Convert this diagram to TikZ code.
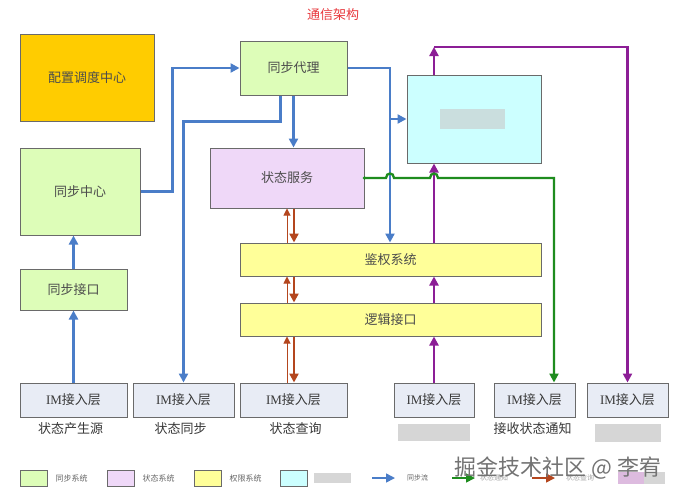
\documentclass[tikz,border=0pt]{standalone}
\usepackage{fontspec}
\setmainfont{Liberation Serif}
\newfontfamily\cjk{Noto Sans CJK SC}
\usetikzlibrary{arrows.meta,positioning}

\definecolor{syncgreen}{HTML}{DDFDB8}
\definecolor{statepurple}{HTML}{EFD8F8}
\definecolor{authyellow}{HTML}{FFFF99}
\definecolor{cachecyan}{HTML}{CCFFFF}
\definecolor{dispatchorange}{HTML}{FFCC00}
\definecolor{accessgray}{HTML}{E8ECF5}
\definecolor{boxline}{HTML}{6A6A6A}
\definecolor{flowblue}{HTML}{4A7DC8}
\definecolor{flowgreen}{HTML}{1E8C1E}
\definecolor{flowpurple}{HTML}{8C1E96}
\definecolor{flowbrown}{HTML}{B4461E}
\definecolor{titlered}{HTML}{E8383D}
\definecolor{smudge}{HTML}{D6D6D6}

\begin{document}
\begin{tikzpicture}
  [x=1pt,y=-1pt,
   box/.style={draw=boxline,line width=1pt,inner sep=0pt,text=black!70,
     font=\cjk\fontsize{13}{15}\selectfont},
   syncbox/.style={box,fill=syncgreen},
   statebox/.style={box,fill=statepurple},
   authbox/.style={box,fill=authyellow,minimum width=301,minimum height=33},
   accessbox/.style={box,fill=accessgray,minimum height=34,text=black!78},
   sidelabel/.style={font=\cjk\fontsize{13}{15}\selectfont,text=black!78,inner sep=1pt},
   keybox/.style={draw=boxline,line width=0.8pt,minimum width=27,minimum height=16,inner sep=0pt},
   keytext/.style={font=\cjk\fontsize{8}{9}\selectfont,text=black!60,inner sep=0pt},
   flowline/.style={line width=2.3pt,-{Triangle[length=9pt,width=9pt]}},
   blueflow/.style={flowline,draw=flowblue},
   greenflow/.style={flowline,draw=flowgreen},
   purpleflow/.style={flowline,draw=flowpurple},
   askup/.style={line width=1pt,draw=flowbrown,-{Triangle[length=7pt,width=7pt]}},
   askdown/.style={flowline,line width=2.4pt,draw=flowbrown}]

  \fill[white] (0,0) rectangle (692,501);
  \useasboundingbox (0,0) rectangle (692,501);

  \node[font=\cjk\fontsize{13}{15}\selectfont,text=titlered] (title) at (333,15) {通信架构};

  % upper systems
  \node[box,fill=dispatchorange,minimum width=134,minimum height=87] (dispatch) at (87,77.5) {配置调度中心};
  \node[syncbox,minimum width=120,minimum height=87] (synccenter) at (80,191.5) {同步中心};
  \node[syncbox,minimum width=107,minimum height=41] (syncapi) at (73.5,289.5) {同步接口};
  \node[syncbox,minimum width=107,minimum height=54] (syncproxy) at (293.5,68) {同步代理};
  \node[statebox,minimum width=154,minimum height=60] (statesvc) at (287,178) {状态服务};
  \node[box,fill=cachecyan,minimum width=134,minimum height=88] (cache) at (474,119) {};
  \fill[cachecyan!60!gray!65] (440,109) rectangle (505,129);
  \node[authbox] (auth) at (390.5,259.5) {鉴权系统};
  \node[authbox] (logic) at (390.5,319.5) {逻辑接口};

  % access layer
  \node[accessbox,minimum width=107] (im1) at (73.5,400) {{\rmfamily IM}接入层};
  \node[accessbox,minimum width=101] (im2) at (183.5,400) {{\rmfamily IM}接入层};
  \node[accessbox,minimum width=107] (im3) at (293.5,400) {{\rmfamily IM}接入层};
  \node[accessbox,minimum width=80] (im4) at (434,400) {{\rmfamily IM}接入层};
  \node[accessbox,minimum width=81] (im5) at (534.5,400) {{\rmfamily IM}接入层};
  \node[accessbox,minimum width=81] (im6) at (627.5,400) {{\rmfamily IM}接入层};

  \node[sidelabel,below=4pt of im1,xshift=-3pt] (lab1) {状态产生源};
  \node[sidelabel,below=4pt of im2,xshift=-3pt] (lab2) {状态同步};
  \node[sidelabel,below=4pt of im3,xshift=2pt] (lab3) {状态查询};
  \node[fill=smudge,inner sep=0pt,minimum width=72,minimum height=17,below=6pt of im4] (lab4) {};
  \node[sidelabel,below=4pt of im5,xshift=-2pt] (lab5) {接收状态通知};
  \node[fill=smudge,inner sep=0pt,minimum width=66,minimum height=18,below=6pt of im6] (lab6) {};

  % sync flow
  \coordinate (authdrop) at (390,68);
  \draw[blueflow] (im1.north) -- (syncapi.south);
  \draw[blueflow] (syncapi.north) -- (syncapi.north |- synccenter.south);
  \draw[blueflow] (synccenter.east) -- ++(32,0) |- (syncproxy.west);
  \draw[blueflow] ([xshift=-13pt]syncproxy.south) -- ++(0,26) -| (im2.north);
  \draw[blueflow] (syncproxy.south) -- (syncproxy.south |- statesvc.north);
  \draw[blueflow] (syncproxy.east) -| (authdrop |- auth.north);
  \draw[blueflow] (authdrop |- cache.west) -- (cache.west);

  % state query
  \coordinate (queryup) at (287,0);
  \coordinate (querydown) at (294,0);
  \draw[askup] (queryup |- auth.north) -- (queryup |- statesvc.south);
  \draw[askdown] (querydown |- statesvc.south) -- (querydown |- auth.north);
  \draw[askup] (queryup |- logic.north) -- (queryup |- auth.south);
  \draw[askdown] (querydown |- auth.south) -- (querydown |- logic.north);
  \draw[askup] (queryup |- im3.north) -- (queryup |- logic.south);
  \draw[askdown] (querydown |- logic.south) -- (querydown |- im3.north);

  % relay flow
  \coordinate (relay) at (434,47);
  \draw[purpleflow] (im4.north) -- (im4.north |- logic.south);
  \draw[purpleflow] (relay |- logic.north) -- (relay |- auth.south);
  \draw[purpleflow] (relay |- auth.north) -- (relay |- cache.south);
  \draw[purpleflow] (relay |- cache.north) -- (relay);
  \draw[purpleflow] (relay) -| (im6.north);

  % state notify
  \coordinate (notify) at (554,0);
  \fill[flowgreen] (statesvc.east) circle (1.9pt);
  \draw[greenflow] (statesvc.east) -- (386,178) .. controls (386,172) and (394,172) .. (394,178)
    -- (430,178) .. controls (430,172) and (438,172) .. (438,178) -| (notify |- im5.north);

  % key
  \node[keybox,fill=syncgreen] (keysync) at (33.5,478) {};
  \node[keytext,right=8pt of keysync] (keysynctext) {同步系统};
  \node[keybox,fill=statepurple] (keystate) at (120.5,478) {};
  \node[keytext,right=8pt of keystate] (keystatetext) {状态系统};
  \node[keybox,fill=authyellow] (keyauth) at (207.5,478) {};
  \node[keytext,right=8pt of keyauth] (keyauthtext) {权限系统};
  \node[keybox,fill=cachecyan] (keycache) at (293.5,478) {};
  \node[fill=smudge,inner sep=0pt,minimum width=37,minimum height=10,right=6pt of keycache] (keycachetext) {};
  \coordinate (keyblue) at (372,478);
  \coordinate (keyblueend) at (395,478);
  \draw[blueflow,line width=1.6pt] (keyblue) -- (keyblueend);
  \node[keytext,font=\cjk\fontsize{7}{8}\selectfont,anchor=west] (keybluetext) at (407,478) {同步流};
  \coordinate (keygreen) at (452,478);
  \coordinate (keygreenend) at (475,478);
  \draw[greenflow,line width=1.6pt] (keygreen) -- (keygreenend);
  \node[keytext,font=\cjk\fontsize{7}{8}\selectfont,anchor=west,text=black!35] (keygreentext) at (480,478) {状态通知};
  \coordinate (keybrown) at (532,478);
  \coordinate (keybrownend) at (555,478);
  \draw[askdown,line width=1.6pt] (keybrown) -- (keybrownend);
  \node[keytext,font=\cjk\fontsize{7}{8}\selectfont,anchor=west,text=black!35] (keybrowntext) at (566,478) {状态查询};
  \fill[flowpurple!30] (618,472) rectangle (644,484);
  \fill[smudge] (644,472) rectangle (665,484);

  \node[font=\cjk\fontsize{22}{24}\selectfont,text=black!55] (mark) at (558,468) {掘金技术社区 @ 李宥};
\end{tikzpicture}
\end{document}
